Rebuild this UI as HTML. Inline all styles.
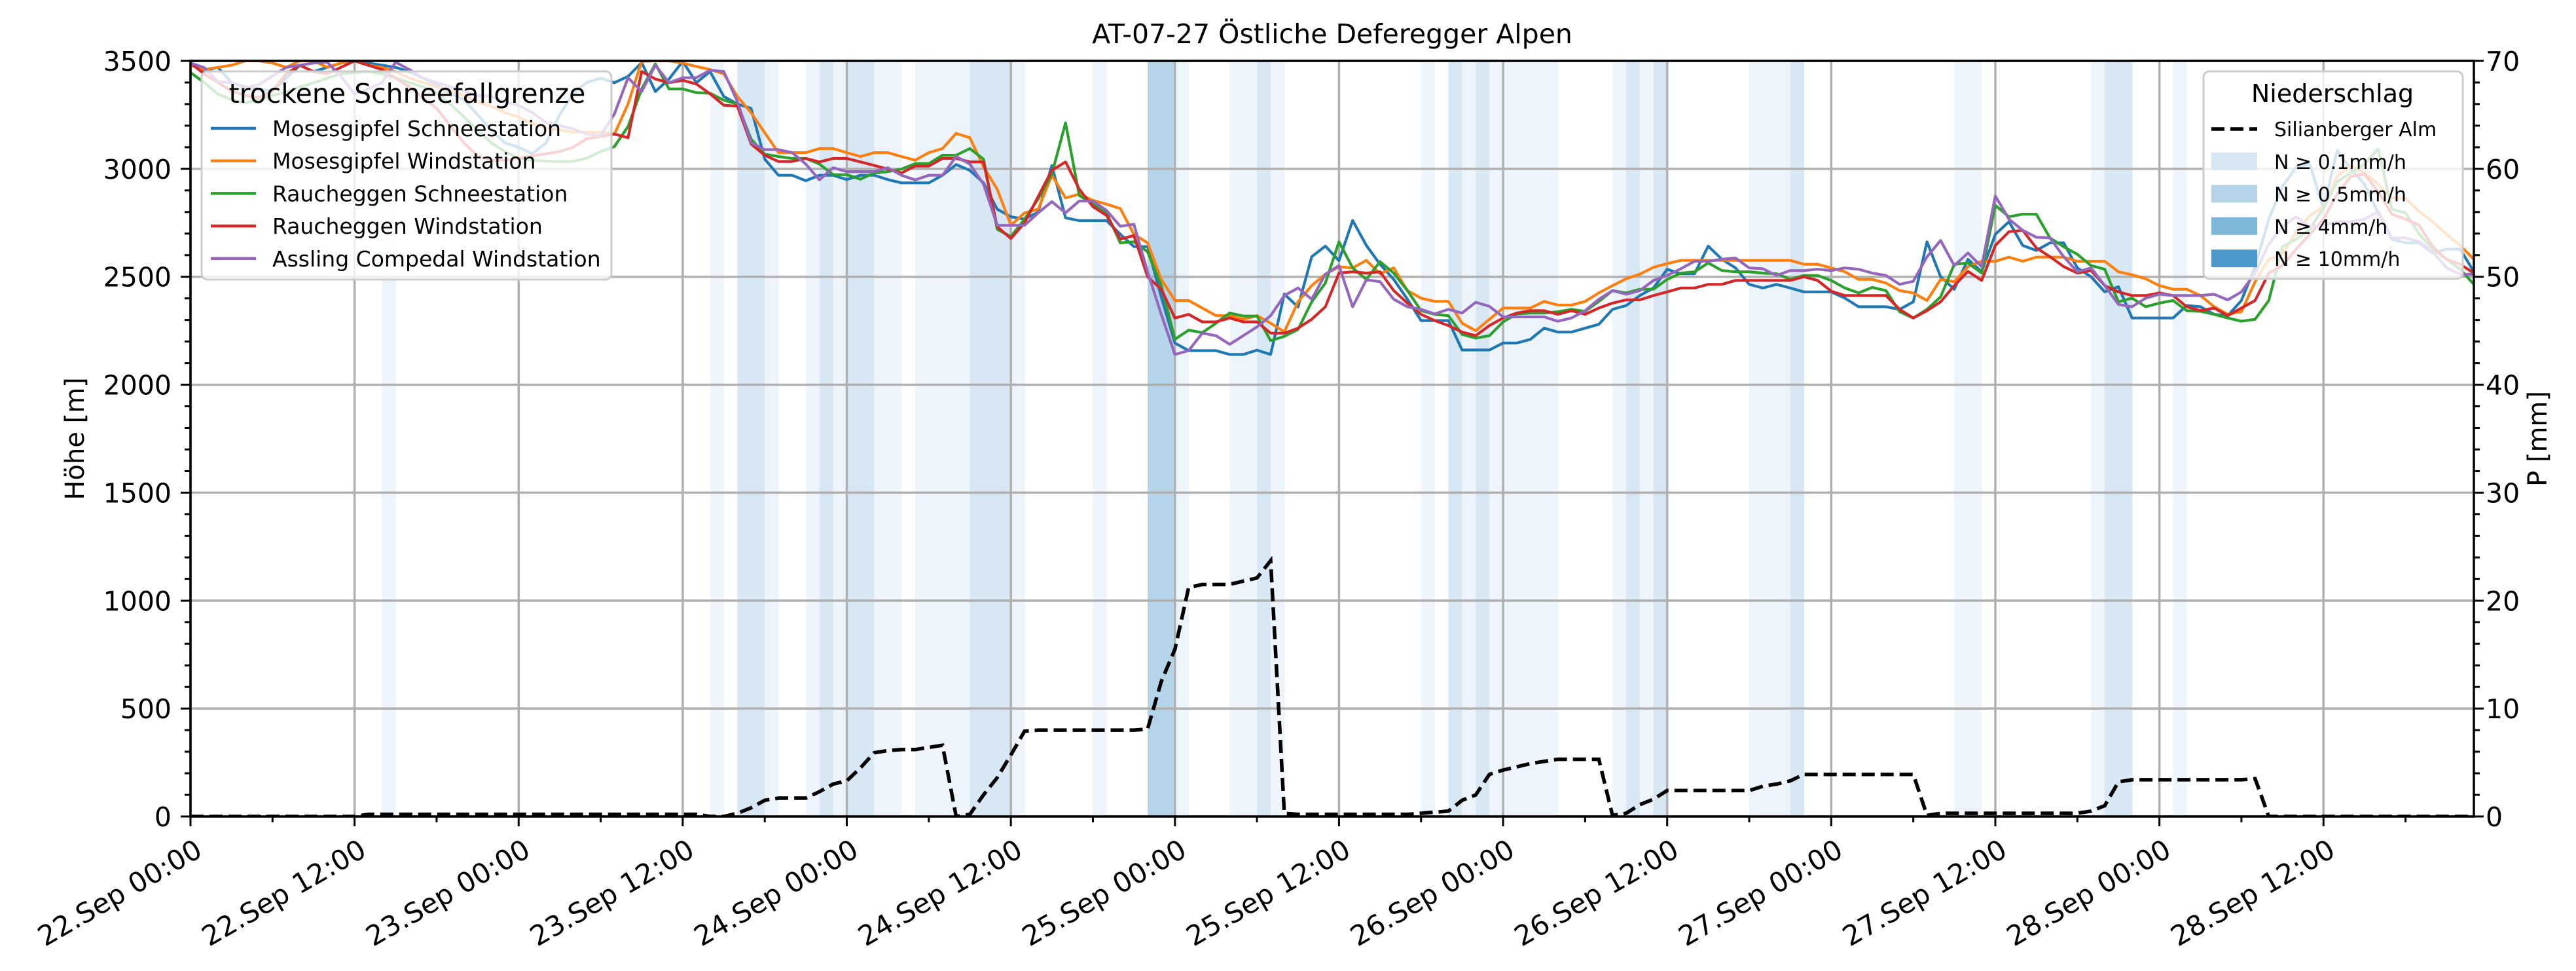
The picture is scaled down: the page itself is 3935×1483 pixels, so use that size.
<!DOCTYPE html>
<html><head><meta charset="utf-8">
<style>
html,body{margin:0;padding:0;background:#fff;}
svg{display:block;font-family:"DejaVu Sans","Liberation Sans",sans-serif;}
</style></head>
<body>
<svg id="chart" xmlns="http://www.w3.org/2000/svg" width="3935" height="1483" viewBox="0 0 3935 1483">
<rect x="0" y="0" width="3935" height="1483" fill="#fff"/>
<defs><clipPath id="plotclip"><rect x="291" y="93" width="3488" height="1154"/></clipPath></defs>
<g id="bars" clip-path="url(#plotclip)"></g>
<g id="grid"></g>
<g id="series" clip-path="url(#plotclip)"></g>
<g id="axes"></g>
<text x="2035" y="66" text-anchor="middle" font-size="41">AT-07-27 Östliche Deferegger Alpen</text>
<text transform="translate(128,670) rotate(-90)" text-anchor="middle" font-size="40">Höhe [m]</text>
<text transform="translate(3890,670) rotate(-90)" text-anchor="middle" font-size="40">P [mm]</text>
<g id="legend1">
<rect x="308" y="109" width="626" height="318" rx="9" fill="#fff" fill-opacity="0.8" stroke="#cccccc" stroke-width="3"/>
<text x="622" y="157" text-anchor="middle" font-size="41">trockene Schneefallgrenze</text>
</g>
<g id="legend2">
<rect x="3366" y="109" width="396" height="317" rx="9" fill="#fff" fill-opacity="0.8" stroke="#cccccc" stroke-width="3"/>
<text x="3563" y="156" text-anchor="middle" font-size="38">Niederschlag</text>
</g>
</svg>
<script>
const seriesNames = ["Mosesgipfel Schneestation","Mosesgipfel Windstation","Raucheggen Schneestation","Raucheggen Windstation","Assling Compedal Windstation"];
const seriesColors = ["#1f77b4","#ff7f0e","#2ca02c","#d62728","#9467bd"];
const xTickLabels = ["22.Sep 00:00","22.Sep 12:00","23.Sep 00:00","23.Sep 12:00","24.Sep 00:00","24.Sep 12:00","25.Sep 00:00","25.Sep 12:00","26.Sep 00:00","26.Sep 12:00","27.Sep 00:00","27.Sep 12:00","28.Sep 00:00","28.Sep 12:00"];
const yTicksLeft = [0,500,1000,1500,2000,2500,3000,3500];
const yTicksRight = [0,10,20,30,40,50,60,70];
const precipLegendLabels = ["N ≥ 0.1mm/h","N ≥ 0.5mm/h","N ≥ 4mm/h","N ≥ 10mm/h"];
const mosesSchnee = [3490,3455,3470,3400,3380,3370,3360,3420,3480,3450,3470,3490,3500,3490,3480,3470,3450,3420,3390,3350,3320,3250,3180,3120,3100,3070,3120,3250,3350,3400,3420,3399,3428,3492,3358,3416,3498,3399,3451,3335,3300,
3280,3045,2970,2970,2945,2970,2970,2950,2970,2970,2950,2935,2935,2935,2970,3020,2993,2935,2813,2778,2767,2800,3015,2773,2760,2760,2760,2697,2640,2640,2407,2193,2158,2158,2158,2140,2140,2160,2140,2420,2360,2593,2642,2575,
2761,2645,2558,2488,2396,2297,2297,2297,2161,2161,2161,2193,2193,2210,2262,2244,2244,2262,2280,2349,2367,2413,2448,2535,2514,2514,2642,2581,2541,2465,2448,2465,2448,2430,2430,2430,2401,2361,2361,2361,
2349,2384,2662,2500,2442,2581,2523,2697,2755,2645,2622,2657,2657,2541,2500,2430,2454,2309,2309,2309,2309,2367,2361,2326,2320,2390,2547,2767,2918,3008,3022,2813,3086,2999,2929,2796,2674,2657,2657,2610,2628,2628,2523];
const mosesWind = [3480,3460,3470,3480,3500,3500,3490,3470,3500,3500,3470,3490,3500,3480,3470,3450,3420,3400,3380,3360,3340,3310,3290,3260,3240,3210,3190,3180,3170,3170,3170,3160,3300,3498,3500,3500,3490,3474,3460,3440,3335,
3260,3167,3075,3075,3075,3094,3094,3075,3057,3075,3075,3057,3040,3075,3094,3164,3144,3010,2906,2738,2796,2813,2970,2865,2883,2854,2836,2816,2697,2657,2488,2390,2390,2355,2320,2320,2303,2320,2285,2245,2384,2459,2512,2546,
2541,2576,2514,2541,2436,2401,2386,2386,2285,2250,2303,2355,2355,2355,2386,2369,2369,2386,2425,2459,2491,2512,2544,2561,2576,2576,2576,2576,2576,2576,2576,2576,2576,2558,2558,2541,2523,2488,2488,2471,
2436,2425,2390,2488,2477,2547,2572,2572,2591,2572,2591,2591,2591,2572,2572,2572,2523,2509,2491,2459,2442,2442,2413,2361,2326,2338,2477,2581,2604,2709,2784,2825,2964,3016,2981,2929,2865,2865,2802,2755,2697,2645,2581];
const rauchSchnee = [3446,3400,3346,3320,3305,3320,3340,3355,3380,3398,3420,3440,3446,3450,3440,3420,3400,3380,3350,3300,3240,3180,3120,3080,3050,3040,3035,3034,3034,3050,3080,3103,3196,3370,3486,3370,3370,3353,3350,3318,3300,
3138,3068,3057,3048,3048,3022,2973,2973,2952,2981,2987,2999,3024,3024,3063,3063,3094,3045,2720,2686,2767,2860,2976,3213,2877,2836,2796,2657,2662,2616,2459,2210,2253,2241,2285,2332,2318,2318,2204,2224,2256,2384,2471,2662,
2541,2488,2570,2517,2436,2343,2326,2320,2233,2216,2227,2291,2328,2332,2332,2338,2349,2340,2386,2436,2425,2442,2442,2488,2517,2523,2564,2529,2523,2523,2517,2514,2488,2506,2506,2483,2448,2425,2451,2436,
2338,2309,2349,2407,2558,2564,2517,2831,2778,2790,2790,2680,2639,2604,2552,2535,2384,2401,2361,2378,2390,2343,2340,2326,2309,2294,2303,2390,2639,2674,2720,2819,2941,2981,3022,3092,2813,2796,2697,2628,2581,2535,2465];
const rauchWind = [3490,3440,3400,3360,3340,3330,3360,3440,3480,3450,3440,3470,3500,3480,3460,3420,3380,3330,3280,3200,3120,3060,3040,3040,3050,3060,3070,3080,3100,3140,3150,3161,3144,3451,3416,3399,3410,3393,3347,3295,3290,
3115,3063,3034,3034,3048,3032,3048,3048,3032,3016,2999,2981,3013,3013,3048,3048,3032,3032,2732,2677,2750,2872,2993,3032,2906,2825,2784,2674,2691,2500,2442,2309,2326,2291,2291,2309,2291,2291,2239,2239,2262,2303,2361,2517,
2523,2517,2523,2436,2378,2326,2297,2274,2244,2227,2274,2309,2332,2343,2343,2326,2343,2326,2355,2378,2393,2393,2413,2430,2448,2448,2465,2465,2483,2483,2483,2483,2483,2500,2483,2433,2413,2413,2413,2413,
2349,2309,2343,2384,2459,2525,2483,2645,2709,2715,2634,2593,2547,2517,2529,2459,2430,2413,2413,2425,2413,2361,2343,2355,2320,2355,2390,2517,2552,2628,2697,2767,2883,2964,2976,2894,2790,2767,2738,2639,2581,2558,2517];
const asslingWind = [3490,3469,3404,3400,3376,3390,3430,3470,3480,3490,3494,3430,3346,3370,3398,3494,3460,3420,3400,3380,3360,3340,3336,3310,3294,3260,3215,3200,3185,3160,3153,3254,3422,3358,3480,3399,3422,3422,3457,3451,3312,
3121,3089,3089,3075,3022,2949,3005,2987,2987,2987,3005,2970,2949,2970,2970,3057,3022,2929,2738,2738,2738,2796,2848,2796,2851,2851,2807,2734,2743,2523,2326,2140,2158,2239,2227,2187,2227,2268,2320,2413,2448,2396,2512,2552,
2361,2486,2477,2396,2361,2349,2328,2349,2332,2382,2363,2314,2314,2314,2314,2294,2309,2343,2396,2436,2419,2436,2483,2506,2537,2572,2572,2581,2587,2541,2537,2506,2529,2529,2535,2529,2541,2535,2517,2506,
2465,2479,2593,2668,2552,2610,2547,2874,2767,2715,2683,2680,2593,2523,2541,2459,2372,2361,2401,2419,2413,2413,2413,2419,2393,2430,2517,2651,2732,2778,2732,2738,2755,2755,2767,2802,2680,2680,2663,2616,2541,2512,2512];
const precipSum = [0,0,0,0,0,0,0,0,0,0,0,0,0,
0.2,0.2,0.2,0.2,0.2,0.2,0.2,0.2,0.2,0.2,0.2,0.2,0.2,0.2,0.2,0.2,0.2,0.2,0.2,0.2,0.2,0.2,0.2,0.2,0.2,
0,0,0.3,0.8,1.5,1.7,1.7,1.7,2.3,3.0,
3.3,4.5,5.9,6.1,6.2,6.2,6.4,6.6,
0,0.2,2.0,3.6,5.7,7.9,8,8,8,8,8,8,8,8,8.1,12.5,15.5,21.2,21.5,21.5,21.5,21.8,22.1,23.7,
0.3,0.2,0.2,0.2,0.2,0.2,0.2,0.2,0.2,0.2,0.3,0.4,0.5,1.5,2.0,3.9,4.3,4.6,4.9,5.1,5.3,5.3,5.3,5.3,
0.1,0.3,1.1,1.6,2.4,2.4,2.4,2.4,2.4,2.4,2.4,2.8,3.0,3.3,3.9,3.9,3.9,3.9,3.9,3.9,3.9,3.9,3.9,
0.1,0.3,0.3,0.3,0.3,0.3,0.3,0.3,0.3,0.3,0.3,0.3,0.5,1.0,3.2,3.4,3.4,3.4,3.4,3.4,3.4,3.4,3.4,3.4,3.5,
0,0,0,0,0,0,0,0,0,0,0,0,0,0,0,0];
const rainHours = [14,38,40,41,42,45,46,47,48,49,50,51,53,54,55,56,57,58,59,60,66,70,71,72,76,77,78,79,90,92,93,94,95,96,97,98,99,104,105,106,107,114,115,116,117,129,130,139,140,141,145];
const rainLevels = [1,1,2,2,1,1,2,1,2,2,1,1,1,1,1,1,2,2,2,1,1,3,3,1,1,1,2,1,1,2,1,2,1,1,1,1,1,1,2,1,2,1,1,1,2,1,1,1,2,2,1];

const NS="http://www.w3.org/2000/svg";
const L=291,R=3779,T=93,B=1247,HMAX=167;
function xs(h){return L+(R-L)*h/HMAX;}
function yl(v){return B-(B-T)*v/3500;}
function yr(v){return B-(B-T)*v/70;}
function mk(tag,attrs,parent){const e=document.createElementNS(NS,tag);for(const k in attrs)e.setAttribute(k,attrs[k]);parent.appendChild(e);return e;}
const levelColors=["","#eef4fb","#d8e7f4","#b6d4e9"];
const legendPatchColors=["#d7e6f3","#b6d4e9","#7fb7d9","#4b98ca"];

const bars=document.getElementById('bars');
rainHours.forEach((h,i)=>{
  const r=mk('rect',{x:xs(h),y:T,width:xs(h+1)-xs(h)+0.5,height:B-T,fill:levelColors[rainLevels[i]]},bars);
  
  
});

const grid=document.getElementById('grid');
xTickLabels.forEach((lab,i)=>{
  const g=mk('line',{x1:xs(i*12),x2:xs(i*12),y1:T,y2:B,stroke:'#b0b0b0','stroke-width':3.5},grid);
  
  
});
yTicksLeft.forEach(v=>{
  const g=mk('line',{x1:L,x2:R,y1:yl(v),y2:yl(v),stroke:'#b0b0b0','stroke-width':3.5},grid);
  
  
});

const seriesData=[mosesSchnee,mosesWind,rauchSchnee,rauchWind,asslingWind];
const sg=document.getElementById('series');
seriesData.forEach((arr,si)=>{
  const pts=arr.map((v,h)=>xs(h).toFixed(1)+','+yl(v).toFixed(1)).join(' ');
  const p=mk('polyline',{points:pts,fill:'none',stroke:seriesColors[si],'stroke-width':4.2,'stroke-linejoin':'round'},sg);
  
  
});
const ppts=precipSum.map((v,h)=>xs(h).toFixed(1)+','+yr(v).toFixed(1)).join(' ');
const pl=mk('polyline',{points:ppts,fill:'none',stroke:'#000','stroke-width':5.5,'stroke-dasharray':'20,9'},sg);



const ax=document.getElementById('axes');
const frame=mk('rect',{x:L,y:T,width:R-L,height:B-T,fill:'none',stroke:'#000','stroke-width':3.5},ax);


for(let h=0;h<=HMAX;h+=6){
  const major=(h%12===0);
  const t=mk('line',{x1:xs(h),x2:xs(h),y1:B,y2:B+(major?15:9),stroke:'#000','stroke-width':3},ax);
  
  
}
xTickLabels.forEach((lab,i)=>{
  const g=mk('g',{transform:'translate('+(xs(i*12)+2)+',1274) rotate(-30)'},ax);
  const t=mk('text',{x:0,y:37,'text-anchor':'end','font-size':42},g);
  t.textContent=lab;
  
  
});
for(let v=0;v<=3500;v+=100){
  const major=(v%500===0);
  const t=mk('line',{x1:L,x2:L-(major?15:9),y1:yl(v),y2:yl(v),stroke:'#000','stroke-width':3},ax);
  
  
}
yTicksLeft.forEach(v=>{
  const t=mk('text',{x:262,y:yl(v)+15,'text-anchor':'end','font-size':41},ax);
  t.textContent=v;
  
  
});
for(let v=0;v<=70;v+=2){
  const major=(v%10===0);
  const t=mk('line',{x1:R,x2:R+(major?15:9),y1:yr(v),y2:yr(v),stroke:'#000','stroke-width':3},ax);
  
  
}
yTicksRight.forEach(v=>{
  const t=mk('text',{x:3797,y:yr(v)+15,'text-anchor':'start','font-size':41},ax);
  t.textContent=v;
  
  
});

const lg1=document.getElementById('legend1');
seriesNames.forEach((n,i)=>{
  const y=196+i*49.7;
  const l=mk('line',{x1:322,x2:391,y1:y,y2:y,stroke:seriesColors[i],'stroke-width':4.5},lg1);
  
  
  const t=mk('text',{x:416,y:y+12,'font-size':33},lg1);
  t.textContent=n;
  
  
});
const lg2=document.getElementById('legend2');
const dl=mk('line',{x1:3378,x2:3448,y1:197,y2:197,stroke:'#000','stroke-width':5.5,'stroke-dasharray':'20,9'},lg2);


const dt=mk('text',{x:3474,y:208,'font-size':30},lg2);
dt.textContent='Silianberger Alm';


precipLegendLabels.forEach((lab,i)=>{
  const y=247+i*49.4;
  const r=mk('rect',{x:3378,y:y-14,width:70,height:27,fill:legendPatchColors[i]},lg2);
  
  
  const t=mk('text',{x:3474,y:y+11,'font-size':30},lg2);
  t.textContent=lab;
  
  
});
</script>
</body></html>
